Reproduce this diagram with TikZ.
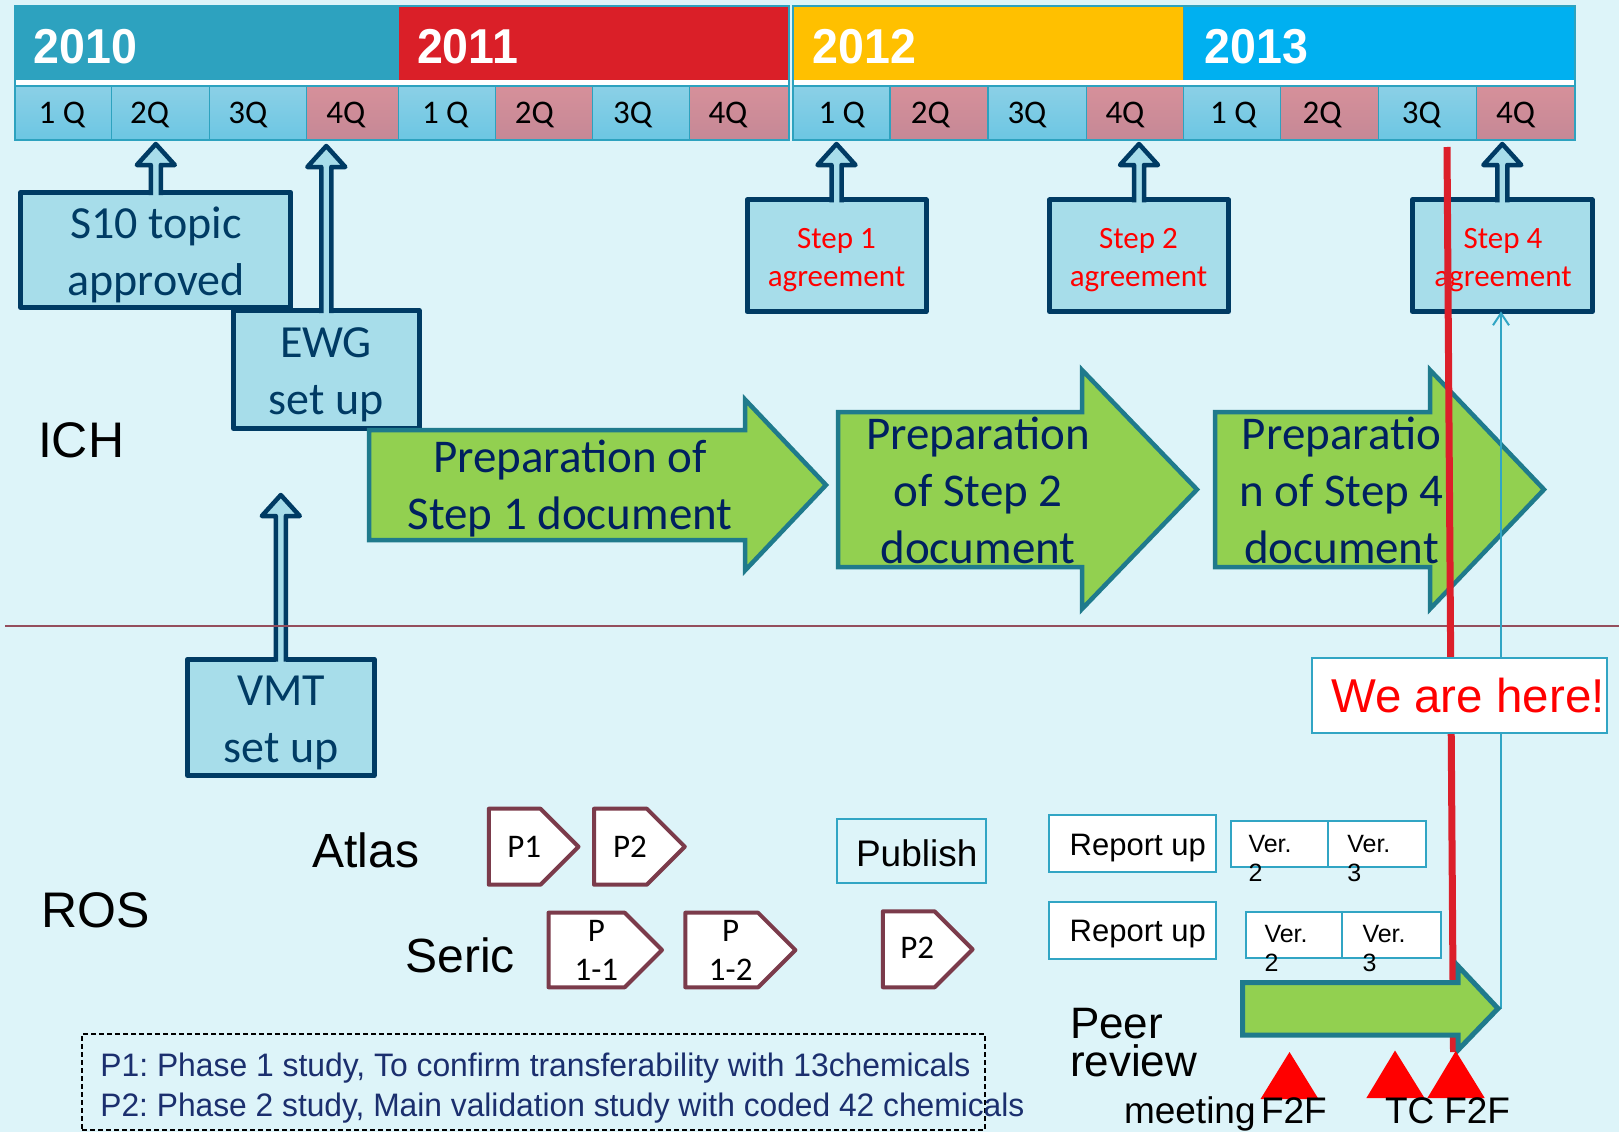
\documentclass[tikz,border=0pt]{standalone}
\usepackage{fontspec}
\usepackage{graphicx}
\setmainfont{Liberation Sans}
\newfontfamily\calfont{Carlito}
\usetikzlibrary{calc,arrows.meta}
\frenchspacing
\definecolor{bg}{HTML}{DDF4F9}
\definecolor{y10}{HTML}{2DA2BF}
\definecolor{y11}{HTML}{DA1F28}
\definecolor{y12}{HTML}{FFC000}
\definecolor{y13}{HTML}{00B0F0}
\definecolor{qbT}{HTML}{8BD0E6}
\definecolor{qbB}{HTML}{6CC6E3}
\definecolor{qpT}{HTML}{D6909A}
\definecolor{qpB}{HTML}{C58896}
\definecolor{hdr}{HTML}{2DA2BF}
\definecolor{boxfill}{HTML}{A7DDEA}
\definecolor{navy}{HTML}{003B64}
\definecolor{gfill}{HTML}{92D050}
\definecolor{gline}{HTML}{1F7A8C}
\definecolor{gtext}{HTML}{002060}
\definecolor{maroon}{HTML}{7B3B4B}
\definecolor{tealthin}{HTML}{31A5C4}
\definecolor{redline}{HTML}{DC1F2A}
\definecolor{sepcol}{HTML}{944E5D}
\definecolor{legendcol}{HTML}{1B2F6E}
\definecolor{stepred}{HTML}{FF0000}
\definecolor{trired}{HTML}{FF0000}
\tikzset{
 every node/.style={inner sep=0pt, outer sep=0pt},
 qb/.style={draw=hdr, line width=1.2pt, top color=qbT, bottom color=qbB},
 qp/.style={draw=hdr, line width=1.2pt, top color=qpT, bottom color=qpB},
 qlbl/.style={font=\calfont\fontsize{33}{40}\selectfont, text=black, anchor=base west},
 yearlbl/.style={font=\bfseries\fontsize{49}{55}\selectfont, text=white, anchor=base west},
 navybox/.style={draw=navy, fill=boxfill, line width=5pt, line join=round},
 navytext/.style={font=\calfont\fontsize{46}{57}\selectfont, text=navy, align=center},
 steptext/.style={font=\calfont\fontsize{31}{38}\selectfont, text=stepred, align=center},
 garrow/.style={fill=gfill, draw=gline, line width=4.5pt, line join=miter},
 gtxt/.style={font=\calfont\fontsize{47}{57}\selectfont, text=gtext, align=center},
 pent/.style={fill=white, draw=maroon, line width=4pt, line join=round},
 ptxt/.style={font=\calfont\fontsize{33}{38.5}\selectfont, text=black, align=center},
 thinbox/.style={draw=tealthin, line width=2pt},
 bigtxt/.style={font=\fontsize{50}{60}\selectfont, text=black, anchor=base west},
 midtxt/.style={font=\fontsize{48}{56}\selectfont, text=black, anchor=base west},
 vertxt/.style={font=\fontsize{25}{28.4}\selectfont, text=black, align=left, anchor=north west},
 reptxt/.style={font=\fontsize{31}{36}\selectfont, text=black, anchor=base},
 lbltxt/.style={font=\fontsize{37}{44}\selectfont, text=black, anchor=base west},
}
\newcommand\qcell[6]{%
 \node[#4, minimum width={(#3-#2)*1pt}, minimum height=54pt, anchor=north west] (#1) at (#2,86) {};
 \node[qlbl] (#1l) at (#2+#6,123.5) {#5};
}
\newcommand\uparr[3]{%
 \fill[boxfill] let \p1=(#1), \p2=(#2) in
  (\x1-5pt,\y1-4pt) -- (\x1-5pt,\y2-#3pt-21pt) -- (\x1-19pt,\y2-#3pt-21pt) -- (\x1,\y2-#3pt)
  -- (\x1+19pt,\y2-#3pt-21pt) -- (\x1+5pt,\y2-#3pt-21pt) -- (\x1+5pt,\y1-4pt) -- cycle;
 \draw[navy, line width=4.5pt, line join=round] let \p1=(#1), \p2=(#2) in
  (\x1-5pt,\y1-2.5pt) -- (\x1-5pt,\y2-#3pt-21pt) -- (\x1-19pt,\y2-#3pt-21pt) -- (\x1,\y2-#3pt)
  -- (\x1+19pt,\y2-#3pt-21pt) -- (\x1+5pt,\y2-#3pt-21pt) -- (\x1+5pt,\y1-2.5pt);
}
\newcommand\pentagon[4]{%
 \path[pent] (#1,#2) -- ({#4-(#3-#2)/2},#2) -- (#4,{(#2+#3)/2}) -- ({#4-(#3-#2)/2},#3) -- (#1,#3) -- cycle;
}
\begin{document}
\begin{tikzpicture}[x=1pt,y=-1pt]
\useasboundingbox (0,0) rectangle (1619,1132);
\fill[bg] (0,0) rectangle (1619,1132);

% ---------- header ----------
\fill[y10] (14.5,6) rectangle (398.5,80);
\fill[y11] (398.5,6) rectangle (788.8,80);
\fill[y12] (793,6) rectangle (1183.2,80);
\fill[y13] (1183.2,6) rectangle (1574.6,80);
\fill[white] (14.5,80) rectangle (788.8,86);
\fill[white] (793,80) rectangle (1574.6,86);
\draw[hdr, line width=1.2pt] (398.5,6) -- (398.5,80) (1183.2,6) -- (1183.2,80);
\node[yearlbl] (y2010) at (33.5,63.5) {\scalebox{0.95}[1]{2010}};
\node[yearlbl] (y2011) at (417,63.5) {\scalebox{0.95}[1]{2011}};
\node[yearlbl] (y2012) at (812.5,63.5) {\scalebox{0.95}[1]{2012}};
\node[yearlbl] (y2013) at (1204.5,63.5) {\scalebox{0.95}[1]{2013}};

\qcell{q10a}{14.5}{111.5}{qb}{1 Q}{24.2}
\qcell{q10b}{111.5}{209.6}{qb}{2Q}{18.6}
\qcell{q10c}{209.6}{306.7}{qb}{3Q}{18.7}
\qcell{q10d}{306.7}{398.5}{qp}{4Q}{19.7}
\qcell{q11a}{398.5}{495.6}{qb}{1 Q}{23.5}
\qcell{q11b}{495.6}{592.6}{qp}{2Q}{19.3}
\qcell{q11c}{592.6}{689.7}{qb}{3Q}{20.5}
\qcell{q11d}{689.7}{788.8}{qp}{4Q}{18.8}
\qcell{q12a}{793}{890}{qb}{1 Q}{25.5}
\qcell{q12b}{890}{988}{qp}{2Q}{20.8}
\qcell{q12c}{988}{1086.2}{qb}{3Q}{19.5}
\qcell{q12d}{1086.2}{1183.2}{qp}{4Q}{19.3}
\qcell{q13a}{1183.2}{1280.3}{qb}{1 Q}{27}
\qcell{q13b}{1280.3}{1378.4}{qp}{2Q}{22.4}
\qcell{q13c}{1378.4}{1476.5}{qb}{3Q}{23.5}
\qcell{q13d}{1476.5}{1574.6}{qp}{4Q}{19.5}
\draw[hdr, line width=2pt] (14.5,6) rectangle (788.8,140);
\draw[hdr, line width=2pt] (793,6) rectangle (1574.6,140);

% ---------- ICH ----------
\node[bigtxt] (ich) at (38,457) {ICH};

\node[navybox, minimum width=270pt, minimum height=115pt] (s10) at (155.8,250) {};
\uparr{s10.north}{q10b.south}{4}
\node[navytext] (s10t) at (156,255) {S10 topic\\approved};

\node[navybox, minimum width=185.7pt, minimum height=118pt] (ewg) at (326.3,369.5) {};
\uparr{ewg.north}{q10d.south}{6}
\node[navytext] (ewgt) at (326,375) {EWG\\set up};

\node[navybox, minimum width=186.7pt, minimum height=116.3pt] (vmt) at (280.8,717.3) {};
\coordinate (vmttip) at (280.8,495);
\uparr{vmt.north}{vmttip}{0}
\node[navytext] (vmtt) at (281,723) {VMT\\set up};

\coordinate (sepL) at (5,626);
\coordinate (sepR) at (1619,626);
\draw[sepcol, line width=2.5pt] (sepL) -- (sepR);

% green arrows
\path[garrow] (369,430) -- (745,430) -- (745,399.5) -- (826,485) -- (745,570.5) -- (745,540) -- (369,540) -- cycle;
\node[gtxt] (g1) at (570,489) {Preparation of\\Step 1 document};
\path[garrow] (838,412) -- (1082,412) -- (1082,370) -- (1197,489.5) -- (1082,609) -- (1082,567) -- (838,567) -- cycle;
\node[gtxt] (g2) at (978,490) {Preparation\\of Step 2\\document};
\path[garrow] (1215,412) -- (1430,412) -- (1430,370) -- (1544,489.5) -- (1430,609) -- (1430,567) -- (1215,567) -- cycle;
\node[gtxt] (g3) at (1341.5,490) {Preparatio\\n of Step 4\\document};

% step boxes
\node[navybox, minimum width=179pt, minimum height=111.5pt] (step1) at (836.5,255.7) {};
\uparr{step1.north}{q12a.south}{4}
\node[steptext] (step1t) at (836.5,260.5) {Step 1\\agreement};
\node[navybox, minimum width=179pt, minimum height=111.5pt] (step2) at (1139,255.7) {};
\uparr{step2.north}{q12d.south}{4}
\node[steptext] (step2t) at (1138.5,260.5) {Step 2\\agreement};
\node[navybox, minimum width=180pt, minimum height=111.5pt] (step4) at (1502.3,255.7) {};
\uparr{step4.north}{q13d.south}{4}
\node[steptext] (step4t) at (1503,260.5) {Step 4\\agreement};

% ---------- ROS ----------
\node[bigtxt] (ros) at (41.5,927) {ROS};
\node[midtxt] (atlas) at (312.5,867.3) {Atlas};
\node[midtxt] (seric) at (405.5,972.6) {Seric};

\pentagon{488.8}{808.7}{884.7}{578.5}
\node[ptxt] (ap1) at (524.3,846.7) {P1};
\pentagon{594}{808.7}{884.7}{684.8}
\node[ptxt] (ap2) at (629.9,846.7) {P2};
\pentagon{548.5}{912.7}{987.3}{662}
\node[ptxt] (sp11) at (596.4,950.4) {P\\1-1};
\pentagon{685.3}{912.7}{987.3}{795.4}
\node[ptxt] (sp12) at (730.7,950.4) {P\\1-2};
\pentagon{882.9}{911.3}{987.3}{972.6}
\node[ptxt] (sp2) at (917.3,947.8) {P2};

\node[thinbox, fill=bg, minimum width=149pt, minimum height=63.5pt] (pub) at (911.5,850.8) {};
\node[font=\fontsize{37}{44}\selectfont, anchor=base] (pubt) at (916.7,866) {Publish};

\node[thinbox, fill=white, minimum width=167pt, minimum height=57pt] (rep1) at (1132.5,843.5) {};
\node[reptxt] (rep1t) at (1137.8,855) {Report up};
\node[thinbox, fill=white, minimum width=167pt, minimum height=57pt] (rep2) at (1132.5,930) {};
\node[reptxt] (rep2t) at (1137.8,941.7) {Report up};

\node[thinbox, fill=white, minimum width=97pt, minimum height=46.3pt] (v1a) at (1279.1,844.2) {};
\node[thinbox, fill=white, minimum width=98.7pt, minimum height=46.3pt] (v1b) at (1377,844.2) {};
\node[vertxt] (v1at) at (1248.5,835.4) {Ver.\\2};
\node[vertxt] (v1bt) at (1347.3,835.4) {Ver.\\3};
\node[thinbox, fill=white, minimum width=96pt, minimum height=46.6pt] (v2a) at (1294,935) {};
\node[thinbox, fill=white, minimum width=99pt, minimum height=46.6pt] (v2b) at (1391.5,935) {};
\node[vertxt] (v2at) at (1264.5,925.4) {Ver.\\2};
\node[vertxt] (v2bt) at (1362.5,925.4) {Ver.\\3};

% thin blue line and red "now" line
\coordinate (peertip) at (1501,1008.5);
\draw[tealthin, line width=2pt, -{Straight Barb[length=12pt,width=16pt]}] (peertip) -- (peertip |- step4.south);
\coordinate (rtop) at (1447,147);
\coordinate (rbot) at (1453.5,1052);
\draw[redline, line width=7pt] (rtop) -- (rbot);

\node[thinbox, fill=white, minimum width=295pt, minimum height=75.6pt] (here) at (1459.5,695.5) {};
\node[font=\fontsize{47.5}{55}\selectfont, text=stepred, anchor=base west] (heret) at (1331,712.7) {We are here!};

% peer review
\node[font=\fontsize{44}{38}\selectfont, align=left, anchor=north west] (peer) at (1070,1008) {Peer\\review};
\path[garrow, line width=5pt] (1242.5,982.5) -- (1458,982.5) -- (1458,966) -- (1498,1008.5) -- (1458,1050) -- (1458,1035) -- (1242.5,1035) -- cycle;

\fill[trired] (1289.5,1052) -- (1318.5,1099) -- (1260.5,1099) -- cycle;
\fill[trired] (1395,1050.5) -- (1424.5,1098) -- (1366.4,1098) -- cycle;
\fill[trired] (1455.7,1051) -- (1484.7,1098) -- (1427.4,1098) -- cycle;

\node[lbltxt] (meet) at (1124,1123) {meeting};
\node[lbltxt] (f2fa) at (1261,1123) {F2F};
\node[lbltxt] (tc) at (1385,1123) {TC};
\node[lbltxt] (f2fb) at (1444.3,1123) {F2F};

% legend
\node[draw=black, line width=1.3pt, dash pattern=on 5pt off 3pt, minimum width=903pt, minimum height=96pt] (legend) at (533.5,1082) {};
\node[font=\fontsize{32.5}{40}\selectfont, text=legendcol, align=left, anchor=north west] (legendt) at (100.4,1053) {\resizebox{870pt}{\height}{P1: Phase 1 study, To confirm transferability with 13chemicals}\\\resizebox{924pt}{\height}{P2: Phase 2 study, Main validation study with coded 42 chemicals}};
\end{tikzpicture}
\end{document}
